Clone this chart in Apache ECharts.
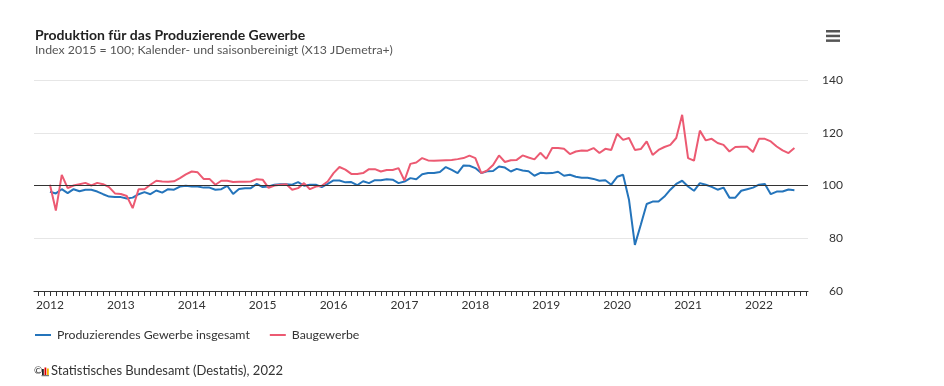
<!DOCTYPE html>
<html>
<head>
<meta charset="utf-8">
<script src="https://cdn.jsdelivr.net/npm/echarts@6/dist/echarts.min.js"></script>
<style>
html,body{margin:0;padding:0;background:#fff;}
#chart{width:944px;height:386px;}
</style>
</head>
<body>
<div id="chart"></div>
<script>
// Monthly data Jan 2012 .. Jul 2022 (index 2015 = 100)
const startYear = 2012;
const yearLabels = ['2012','2013','2014','2015','2016','2017','2018','2019','2020','2021','2022'];
const yTicks = [60, 80, 100, 120, 140];
const referenceLine = 100;
const seriesNames = ['Produzierendes Gewerbe insgesamt', 'Baugewerbe'];

const produzierendesGewerbe = [
  97.6, 97.0, 98.6, 97.1, 98.6, 97.8, 98.4, 98.4, 97.7, 96.7, 95.8, 95.6,
  95.6, 95.1, 95.4, 96.7, 97.5, 96.7, 98.1, 97.3, 98.6, 98.4, 99.6, 99.9,
  99.6, 99.6, 99.2, 99.2, 98.4, 98.6, 99.9, 96.8, 98.7, 99.0, 99.0, 100.6,
  99.4, 99.6, 100.3, 100.5, 100.5, 100.3, 101.3, 99.9, 100.3, 100.3, 99.4, 100.6,
  101.9, 101.9, 101.2, 101.3, 100.1, 101.6, 100.9, 102.0, 102.0, 102.4, 102.2, 100.9,
  101.5, 102.8, 102.4, 104.3, 104.7, 104.7, 105.1, 107.0, 105.9, 104.7, 107.6, 107.5,
  106.6, 104.7, 105.4, 105.5, 107.2, 106.8, 105.3, 106.3, 105.7, 105.4, 103.7, 104.8,
  104.6, 104.7, 105.2, 103.7, 104.1, 103.3, 102.9, 102.9, 102.5, 101.8, 102.0, 100.3,
  103.3, 104.1, 94.6, 77.5, 85.1, 93.0, 93.9, 93.9, 95.8, 98.4, 100.6, 101.8,
  99.6, 98.0, 100.9, 100.3, 99.5, 98.4, 99.2, 95.4, 95.4, 98.0, 98.6, 99.2,
  100.3, 100.6, 96.7, 97.7, 97.7, 98.5, 98.2
];

const baugewerbe = [
  100.3, 90.5, 104.0, 99.0, 100.0, 100.5, 101.0, 100.0, 101.0, 100.5, 99.4, 97.0,
  96.8, 96.0, 91.4, 98.6, 98.6, 100.3, 101.8, 101.5, 101.4, 101.6, 102.8, 104.2,
  105.3, 105.0, 102.5, 102.5, 100.3, 101.8, 101.8, 101.3, 101.4, 101.4, 101.5, 102.4,
  102.2, 99.1, 100.0, 100.3, 100.5, 98.4, 99.0, 100.9, 98.6, 99.6, 99.9, 101.5,
  104.7, 107.0, 106.0, 104.4, 104.4, 104.7, 106.2, 106.2, 105.3, 105.9, 105.9, 106.6,
  101.9, 108.2, 108.7, 110.4, 109.5, 109.4, 109.5, 109.6, 109.7, 110.0, 110.4, 111.3,
  110.4, 104.7, 105.7, 107.8, 111.4, 108.9, 109.6, 109.7, 111.4, 110.6, 109.9, 112.4,
  110.1, 114.2, 114.2, 113.9, 111.9, 112.9, 113.3, 113.2, 114.2, 112.3, 113.9, 113.5,
  119.6, 117.3, 118.0, 113.5, 113.8, 116.7, 111.6, 113.5, 114.6, 115.4, 118.0, 126.8,
  110.4, 109.4, 120.8, 117.1, 117.7, 116.1, 115.4, 112.9, 114.6, 114.7, 114.7, 112.7,
  117.7, 117.7, 116.7, 114.8, 113.3, 112.3, 114.2
];

const toPairs = arr => arr.map((v, i) => [i, v]);
const yearTickPositions = yearLabels.map((y, k) => k * 12);
const monthTicks = [];
for (let m = -2; m <= 128; m++) monthTicks.push(m);

const FONT = 'Lato';
const chart = echarts.init(document.getElementById('chart'), null, {renderer: 'canvas'});
chart.setOption({
  animation: false,
  backgroundColor: '#ffffff',
  textStyle: {fontFamily: FONT},
  title: {
    text: 'Produktion für das Produzierende Gewerbe',
    subtext: 'Index 2015 = 100; Kalender- und saisonbereinigt (X13 JDemetra+)',
    left: 35, top: 27, padding: 0, itemGap: 0,
    textStyle: {fontFamily: FONT, fontSize: 14, fontWeight: 'bold', color: '#222', lineHeight: 16},
    subtextStyle: {fontFamily: FONT, fontSize: 12.3, color: '#555', lineHeight: 15}
  },
  legend: {
    left: 35, top: 329, padding: 0,
    icon: 'rect', itemWidth: 16, itemHeight: 2, itemGap: 20,
    textStyle: {fontFamily: FONT, fontSize: 12.3, color: '#333', padding: [0,0,0,1]},
    data: seriesNames
  },
  grid: {left: 34, right: 136, top: 80, bottom: 95, containLabel: false},
  xAxis: {
    type: 'value',
    min: -2.7, max: 128.3,
    splitLine: {show: false},
    axisLine: {show: true, lineStyle: {color: '#333', width: 1}},
    axisTick: {show: true, customValues: monthTicks, length: 5, lineStyle: {color: '#333'}},
    axisLabel: {
      customValues: yearTickPositions,
      formatter: v => String(startYear + Math.round(v / 12)),
      margin: 8, fontSize: 12, color: '#333', fontFamily: FONT
    }
  },
  yAxis: {
    type: 'value', position: 'right',
    min: yTicks[0], max: yTicks[yTicks.length - 1], interval: 20,
    axisLine: {show: false}, axisTick: {show: false},
    splitLine: {lineStyle: {color: '#e6e6e6', width: 1}},
    axisLabel: {align: 'right', margin: 35, fontSize: 12, color: '#333', fontFamily: FONT}
  },
  series: [
    {
      name: seriesNames[0], type: 'line', data: toPairs(produzierendesGewerbe),
      showSymbol: false, symbol: 'none',
      lineStyle: {color: '#2474bb', width: 2}, itemStyle: {color: '#2474bb'},
      markLine: {
        silent: true, symbol: 'none', label: {show: false},
        lineStyle: {color: '#333', width: 1, type: 'solid'},
        data: [{yAxis: referenceLine}]
      },
      z: 2
    },
    {
      name: seriesNames[1], type: 'line', data: toPairs(baugewerbe),
      showSymbol: false, symbol: 'none',
      lineStyle: {color: '#ec5a72', width: 2}, itemStyle: {color: '#ec5a72'},
      z: 3
    }
  ],
  graphic: [
    // hamburger menu icon
    {type: 'rect', shape: {x: 826, y: 30, width: 14, height: 2.5}, style: {fill: '#555'}},
    {type: 'rect', shape: {x: 826, y: 34.7, width: 14, height: 2.5}, style: {fill: '#555'}},
    {type: 'rect', shape: {x: 826, y: 39.4, width: 14, height: 2.5}, style: {fill: '#555'}},
    // credits
    {type: 'text', left: 34, top: 366, style: {text: '©', font: '10px ' + FONT, fill: '#333'}},
    {type: 'rect', shape: {x: 42, y: 369, width: 1.8, height: 6}, style: {fill: '#222'}},
    {type: 'rect', shape: {x: 44.5, y: 367.5, width: 1.8, height: 7.5}, style: {fill: '#d00'}},
    {type: 'rect', shape: {x: 47, y: 368.5, width: 1.8, height: 6.5}, style: {fill: '#f5b800'}},
    {type: 'rect', shape: {x: 41.5, y: 375.2, width: 7.5, height: 1}, style: {fill: '#555'}},
    {type: 'text', left: 51, top: 364.5, style: {text: 'Statistisches Bundesamt (Destatis), 2022', font: '13px ' + FONT, fill: '#333'}}
  ]
});
</script>
</body>
</html>
